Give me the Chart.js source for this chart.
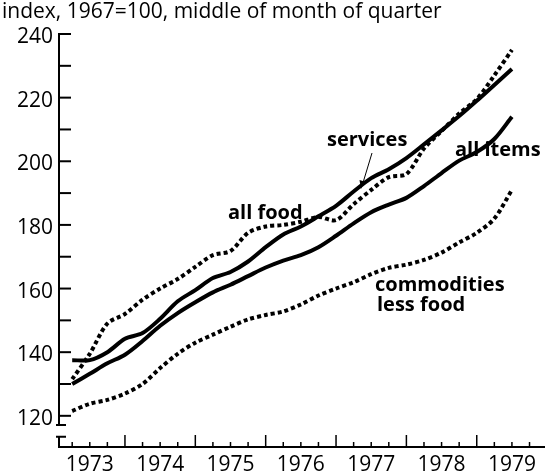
<!DOCTYPE html>
<html>
<head>
<meta charset="utf-8">
<script src="https://cdn.jsdelivr.net/npm/chart.js@4.4.0/dist/chart.umd.min.js"></script>
<style>
  html, body { margin: 0; padding: 0; background: #fff; }
</style>
</head>
<body>
<canvas id="cpi" width="545" height="475"></canvas>
<script>
// quarterly readings (index, 1967=100)
const quarters = [1973.25, 1973.5, 1973.75, 1974.0, 1974.25, 1974.5, 1974.75, 1975.0,
  1975.25, 1975.5, 1975.75, 1976.0, 1976.25, 1976.5, 1976.75, 1977.0,
  1977.25, 1977.5, 1977.75, 1978.0, 1978.25, 1978.5, 1978.75, 1979.0,
  1979.25, 1979.5];

const services = [137.5, 137.5, 140, 144.2, 146, 150.5, 156, 159.5,
  163.3, 165.2, 168.5, 173, 177, 179.5, 182.7, 186,
  190.5, 194.7, 197.5, 201, 205.3, 209.7, 214.2, 219,
  224, 229];

const allItems = [130, 133.2, 136.5, 139.2, 143.5, 148.3, 152.3, 155.7,
  158.8, 161.2, 163.9, 166.6, 168.8, 170.5, 173, 176.6,
  180.5, 184, 186.4, 188.5, 192.2, 196.3, 200.2, 202.9,
  207, 214];

const allFood = [131.5, 139.5, 149, 152, 156.5, 160, 163, 166.8,
  170.5, 171.8, 177.5, 179.5, 180, 181, 182.5, 181.5,
  186.5, 191, 195, 196, 204, 209.5, 215, 219.5,
  227, 235];

const commoditiesLessFood = [121.5, 123.8, 125, 127, 130, 135, 139.5, 143,
  145.5, 148, 150.3, 151.7, 152.8, 155, 157.8, 160,
  162, 164.5, 166.5, 167.5, 169, 171.3, 174.5, 177.5,
  182, 191];

const years = [1973, 1974, 1975, 1976, 1977, 1978, 1979];
const yTicks = [120, 130, 140, 150, 160, 170, 180, 190, 200, 210, 220, 230, 240];
const yLabels = [120, 140, 160, 180, 200, 220, 240];

const toPoints = (vals) => vals.map((v, i) => ({ x: quarters[i], y: v }));

const FONT = '"Open Sans", "DejaVu Sans", sans-serif';

// axes, ticks and the text notes
const framePlugin = {
  id: "frame",
  afterDraw(chart) {
    const ctx = chart.ctx;
    const xs = chart.scales.x;
    const ys = chart.scales.y;
    const left = chart.chartArea.left;
    const right = chart.chartArea.right;
    const bottom = chart.chartArea.bottom;

    ctx.save();
    ctx.strokeStyle = "#000";
    ctx.fillStyle = "#000";
    ctx.lineWidth = 2;

    // y axis with a break near the bottom
    const yTop = ys.getPixelForValue(240);
    const brk1 = ys.getPixelForValue(117.1);
    const brk2 = ys.getPixelForValue(113.4);
    ctx.beginPath();
    ctx.moveTo(left, yTop);
    ctx.lineTo(left, brk1);
    ctx.moveTo(left - 3, brk1);
    ctx.lineTo(left + 7, brk1);
    ctx.moveTo(left - 3, brk2);
    ctx.lineTo(left + 7, brk2);
    ctx.moveTo(left, brk2);
    ctx.lineTo(left, bottom);
    ctx.stroke();

    yTicks.forEach((v) => {
      const y = ys.getPixelForValue(v);
      ctx.beginPath();
      ctx.moveTo(left - 1, y);
      ctx.lineTo(left + 12, y);
      ctx.stroke();
    });

    ctx.font = "21px " + FONT;
    ctx.textAlign = "right";
    ctx.textBaseline = "middle";
    yLabels.forEach((v) => {
      ctx.fillText(String(v), left - 6, ys.getPixelForValue(v) + 3);
    });

    // x axis
    ctx.beginPath();
    ctx.moveTo(left - 1, bottom);
    ctx.lineTo(right, bottom);
    ctx.stroke();

    ctx.lineWidth = 1.5;
    years.forEach((yr) => {
      [0, 0.25, 0.5, 0.75].forEach((q) => {
        const t = yr + q;
        if (t < xs.min || t > xs.max) return;
        const x = xs.getPixelForValue(t);
        ctx.beginPath();
        ctx.moveTo(x, bottom);
        ctx.lineTo(x, bottom - (q === 0 ? 12 : 5));
        ctx.stroke();
      });
    });

    ctx.textAlign = "center";
    ctx.textBaseline = "middle";
    years.forEach((yr) => {
      ctx.fillText(String(yr), xs.getPixelForValue(yr + 0.5), 465);
    });

    // heading
    ctx.textAlign = "left";
    ctx.fillText("index, 1967=100, middle of month of quarter", 2, 12);

    // series names
    ctx.font = "bold 20px " + FONT;
    ctx.fillText("services", 327, 140);
    ctx.fillText("all items", 455, 150);
    ctx.fillText("all food", 228, 213);
    ctx.fillText("commodities", 375, 285);
    ctx.fillText("less food", 377, 305);

    // pointer from "services"
    ctx.lineWidth = 1;
    ctx.beginPath();
    ctx.moveTo(372, 153);
    ctx.lineTo(362, 186);
    ctx.stroke();
    ctx.beginPath();
    ctx.moveTo(361, 189);
    ctx.lineTo(359.5, 180);
    ctx.lineTo(364.5, 181.5);
    ctx.closePath();
    ctx.fill();

    ctx.restore();
  }
};

const solid = { borderColor: "#000", borderWidth: 4, pointRadius: 0, tension: 0.3, borderCapStyle: "butt" };
const dotted = { ...solid, borderDash: [4, 3] };

new Chart(document.getElementById("cpi"), {
  type: "line",
  data: {
    datasets: [
      { label: "services", data: toPoints(services), ...solid },
      { label: "all items", data: toPoints(allItems), ...solid },
      { label: "all food", data: toPoints(allFood), ...dotted },
      { label: "commodities less food", data: toPoints(commoditiesLessFood), ...dotted }
    ]
  },
  options: {
    responsive: false,
    animation: false,
    devicePixelRatio: 1,
    layout: { padding: { left: 59, top: 34, right: 0, bottom: 28 } },
    plugins: { legend: { display: false }, tooltip: { enabled: false } },
    scales: {
      x: { type: "linear", min: 1973.0625, max: 1979.97, display: false },
      y: { min: 110.2, max: 240, display: false }
    }
  },
  plugins: [framePlugin]
});
</script>
</body>
</html>
